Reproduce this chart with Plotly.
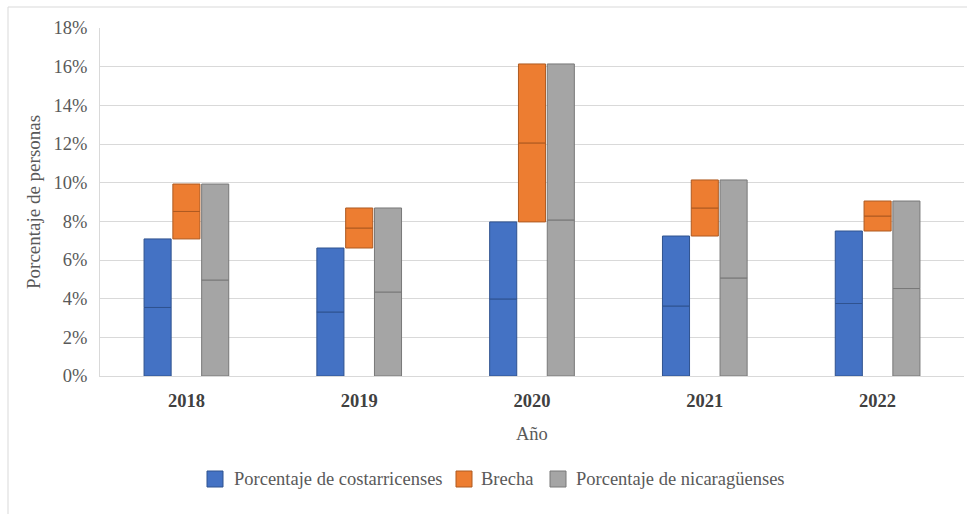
import plotly.graph_objects as go

years = ["2018", "2019", "2020", "2021", "2022"]
costarricenses = [0.0709, 0.0662, 0.0797, 0.0724, 0.0750]
nicaraguenses = [0.0993, 0.0869, 0.1614, 0.1014, 0.0905]
brecha = [n - c for n, c in zip(nicaraguenses, costarricenses)]

series = [
    ("Porcentaje de costarricenses", "c", [0] * 5, costarricenses, "#4472C4", "#2F528F"),
    ("Brecha", "b", costarricenses, brecha, "#ED7D31", "#AE5A21"),
    ("Porcentaje de nicaragüenses", "n", [0] * 5, nicaraguenses, "#A5A5A5", "#787878"),
]

fig = go.Figure()
for name, grp, base, vals, col, edge in series:
    half = [v / 2 for v in vals]
    lower_base = list(base)
    upper_base = [b + h for b, h in zip(base, half)]
    for bb in [lower_base, upper_base]:
        fig.add_trace(go.Bar(
            x=years, y=half, base=bb, name=name,
            offsetgroup=grp, showlegend=False,
            marker=dict(color=col, line=dict(color=edge, width=1)),
            hoverinfo="skip",
        ))

FF = "Liberation Serif"
TXT = "#595959"
L, R, T, B, W, H = 100, 3, 28, 138, 967, 514
PW, PH = W - L - R, H - T - B


def px(x):
    return (x - L) / PW


def py(y):
    return (H - B - y) / PH


fig.update_layout(
    width=W, height=H,
    margin=dict(l=L, r=R, t=T, b=B),
    paper_bgcolor="white", plot_bgcolor="white",
    barmode="group", bargap=0.5, bargroupgap=0.06,
    font=dict(family=FF, size=18.5, color=TXT),
    showlegend=False,
)
fig.update_xaxes(
    type="category", showgrid=False, showline=True, linecolor="#D9D9D9", linewidth=1,
    ticks="", ticklabelstandoff=8,
    tickfont=dict(family=FF, size=18.5, color="#404040", weight="bold"),
)
fig.update_yaxes(
    range=[0, 0.18], dtick=0.02, tickformat=".0%", showgrid=True, gridcolor="#D9D9D9",
    gridwidth=1, zeroline=False, showline=True, linecolor="#D9D9D9", linewidth=1,
    ticks="", ticklabelstandoff=8,
    tickfont=dict(family=FF, size=18.5, color=TXT),
)
fig.add_annotation(text="Año", xref="paper", yref="paper", x=0.5, y=py(434),
                   xanchor="center", yanchor="middle", showarrow=False,
                   font=dict(family=FF, size=18.5, color=TXT))
fig.add_annotation(text="Porcentaje de personas", xref="paper", yref="paper",
                   x=px(33), y=0.5, textangle=-90, xanchor="center", yanchor="middle",
                   showarrow=False, font=dict(family=FF, size=19, color=TXT))

# custom legend
legend_items = [
    ("Porcentaje de costarricenses", "#4472C4", "#2F528F", 207, 232),
    ("Brecha", "#ED7D31", "#AE5A21", 456, 479),
    ("Porcentaje de nicaragüenses", "#A5A5A5", "#787878", 550, 574),
]
ly = 479
for name, col, edge, sx, tx in legend_items:
    fig.add_shape(type="rect", xref="paper", yref="paper",
                  x0=px(sx), x1=px(sx + 16), y0=py(ly + 8), y1=py(ly - 8),
                  fillcolor=col, line=dict(color=edge, width=1))
    fig.add_annotation(text=name, xref="paper", yref="paper", x=px(tx), y=py(ly),
                       xanchor="left", yanchor="middle", showarrow=False,
                       font=dict(family=FF, size=18.5, color=TXT))

# chart outer border (top and left edges)
fig.add_shape(type="line", xref="paper", yref="paper", x0=px(8), x1=px(968), y0=py(7), y1=py(7),
              line=dict(color="#D9D9D9", width=1))
fig.add_shape(type="line", xref="paper", yref="paper", x0=px(8), x1=px(8), y0=py(515), y1=py(7),
              line=dict(color="#D9D9D9", width=1))

fig.write_html("out.html")
